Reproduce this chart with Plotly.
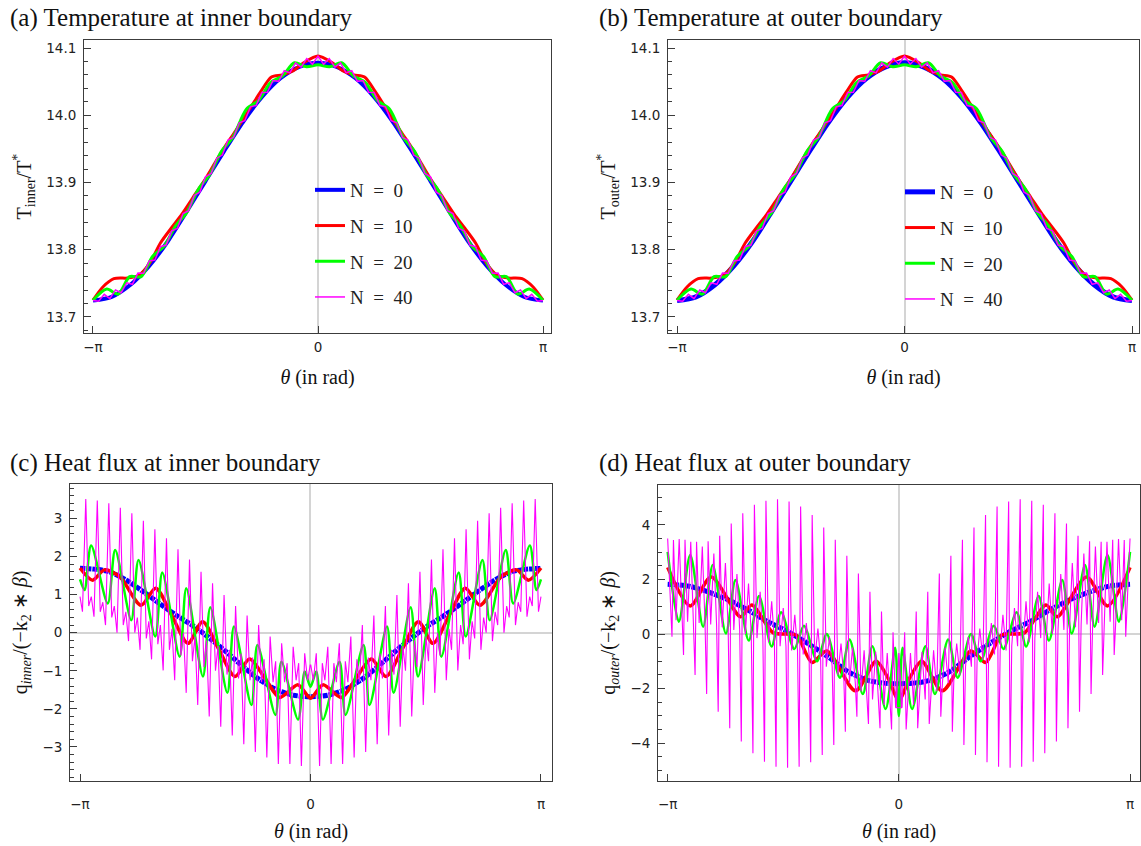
import numpy as np
import plotly.graph_objects as go

PI = np.pi
W, H = 1141, 846

# ======================= DATA =======================
# ---- (a)/(b) temperature, theta in rad ----
T_N0_theta = [-3.1416, -2.8798, -2.618, -2.3562, -2.0944, -1.8326, -1.5708, -1.309, -1.0472, -0.7854, -0.5236, -0.2618, 0.0,
              0.2618, 0.5236, 0.7854, 1.0472, 1.309, 1.5708, 1.8326, 2.0944, 2.3562, 2.618, 2.8798, 3.1416]
T_N0 = [13.7245, 13.730, 13.748, 13.776, 13.813, 13.857, 13.902, 13.947, 13.990, 14.027, 14.055, 14.072, 14.078,
        14.072, 14.055, 14.027, 13.990, 13.947, 13.902, 13.857, 13.813, 13.776, 13.748, 13.730, 13.7245]

T_N10_theta = [-3.1416, -3.00, -2.85, -2.65, -2.50, -2.35, -2.20, -2.05, -1.90, -1.75, -1.55, -1.35, -1.15, -0.95, -0.80,
               -0.65, -0.50, -0.35, -0.20, 0.0, 0.20, 0.35, 0.50, 0.65, 0.80, 0.95, 1.15, 1.35, 1.55, 1.75, 1.90, 2.05,
               2.20, 2.35, 2.50, 2.65, 2.85, 3.00, 3.1416]
T_N10 = [13.725, 13.745, 13.757, 13.758, 13.762, 13.780, 13.810, 13.832, 13.853, 13.877, 13.909, 13.945, 13.977, 14.010,
         14.035, 14.057, 14.060, 14.066, 14.078, 14.088, 14.078, 14.066, 14.060, 14.057, 14.035, 14.010, 13.977, 13.945,
         13.909, 13.877, 13.853, 13.832, 13.810, 13.780, 13.762, 13.758, 13.757, 13.745, 13.725]

T_N20_theta = [-3.1416, -2.95, -2.79, -2.63, -2.47, -2.31, -2.15, -1.99, -1.83, -1.67, -1.51, -1.35, -1.19, -1.00, -0.83,
               -0.66, -0.50, -0.33, -0.16, 0.0, 0.16, 0.33, 0.50, 0.66, 0.83, 1.00, 1.19, 1.35, 1.51, 1.67, 1.83, 1.99,
               2.15, 2.31, 2.47, 2.63, 2.79, 2.95, 3.1416]
T_N20 = [13.725, 13.7415, 13.734, 13.760, 13.760, 13.790, 13.805, 13.835, 13.856, 13.890, 13.912, 13.946, 13.967, 14.009,
         14.022, 14.049, 14.058, 14.078, 14.072, 14.075, 14.072, 14.078, 14.058, 14.049, 14.022, 14.009, 13.967, 13.946,
         13.912, 13.890, 13.856, 13.835, 13.805, 13.790, 13.760, 13.760, 13.734, 13.7415, 13.725]

T_N40_theta = list(np.linspace(-PI, PI, 81))
T_N40 = [13.7245, 13.7235, 13.7337, 13.7274, 13.7402, 13.7360, 13.7508, 13.7486, 13.7653, 13.7649, 13.7833, 13.7846,
         13.8045, 13.8070, 13.8281, 13.8318, 13.8538, 13.8582, 13.8808, 13.8856, 13.9085, 13.9134, 13.9362, 13.9408,
         13.9632, 13.9672, 13.9889, 13.9920, 14.0125, 14.0144, 14.0337, 14.0341, 14.0517, 14.0504, 14.0662, 14.0630,
         14.0778, 14.0716, 14.0843, 14.0759, 14.0880,
         14.0759, 14.0843, 14.0716, 14.0778, 14.0630, 14.0662, 14.0504, 14.0517, 14.0341, 14.0337, 14.0144, 14.0125,
         13.9920, 13.9889, 13.9672, 13.9632, 13.9408, 13.9362, 13.9134, 13.9085, 13.8856, 13.8808, 13.8582, 13.8538,
         13.8318, 13.8281, 13.8070, 13.8045, 13.7846, 13.7833, 13.7649, 13.7653, 13.7486, 13.7508, 13.7360, 13.7402,
         13.7274, 13.7337, 13.7235, 13.7245]

# ---- (c) heat flux, inner ----
qc_N0_theta = [-3.1416, -2.95, -2.74, -2.51, -2.28, -2.06, -1.83, -1.60, -1.37, -1.15, -0.92, -0.69, -0.46, -0.24, 0.0,
               0.24, 0.46, 0.69, 0.92, 1.15, 1.37, 1.60, 1.83, 2.06, 2.28, 2.51, 2.74, 2.95, 3.1416]
qc_N0 = [1.69, 1.67, 1.60, 1.38, 1.08, 0.77, 0.46, 0.18, -0.15, -0.50, -0.89, -1.24, -1.50, -1.64, -1.68,
         -1.64, -1.50, -1.24, -0.89, -0.50, -0.15, 0.18, 0.46, 0.77, 1.08, 1.38, 1.60, 1.67, 1.69]

qc_N10_theta = [-3.1416, -2.97, -2.81, -2.60, -2.31, -2.11, -1.89, -1.67, -1.47, -1.25, -1.03, -0.83, -0.62, -0.42,
                -0.17, 0.0, 0.17, 0.42, 0.62, 0.83, 1.03, 1.25, 1.47, 1.67, 1.89, 2.11, 2.31, 2.60, 2.81, 2.97, 3.1416]
qc_N10 = [1.70, 1.38, 1.65, 1.47, 0.72, 1.17, 0.45, -0.28, 0.29, -0.43, -1.15, -0.69, -1.20, -1.70, -1.37, -1.72,
          -1.37, -1.70, -1.20, -0.69, -1.15, -0.43, 0.29, -0.28, 0.45, 1.17, 0.72, 1.47, 1.65, 1.38, 1.70]

qc_N20_theta = [-3.1416, -3.08, -2.99, -2.763, -2.662, -2.443, -2.344, -2.116, -2.02, -1.784, -1.693, -1.466, -1.365,
                -1.133, -1.043, -0.805, -0.723, -0.478, -0.396, -0.169, -0.078, 0.0, 0.078, 0.169, 0.396, 0.478, 0.723,
                0.805, 1.043, 1.133, 1.365, 1.466, 1.693, 1.784, 2.02, 2.116, 2.344, 2.443, 2.662, 2.763, 2.99, 3.08,
                3.1416]
qc_N20 = [1.40, 1.12, 2.29, 0.77, 2.17, 0.33, 1.91, -0.10, 1.58, -0.63, 1.17, -1.15, 0.67, -1.58, 0.16, -1.90, -0.32,
          -2.16, -0.76, -2.28, -1.02, -1.42, -1.02, -2.28, -0.76, -2.16, -0.32, -1.90, 0.16, -1.58, 0.67, -1.15, 1.17,
          -0.63, 1.58, -0.10, 1.91, 0.33, 2.17, 0.77, 2.29, 1.12, 1.40]

# N = 40: one entry per oscillation period (spike position, spike top, deep trough, two intermediate levels)
spike_theta = [-3.063, -2.906, -2.749, -2.592, -2.435, -2.278, -2.121, -1.963, -1.806, -1.649, -1.492, -1.335, -1.178,
               -1.021, -0.864, -0.707, -0.550, -0.393, -0.236, -0.079, 0.079, 0.236, 0.393, 0.550, 0.707, 0.864,
               1.021, 1.178, 1.335, 1.492, 1.649, 1.806, 1.963, 2.121, 2.278, 2.435, 2.592, 2.749, 2.906, 3.063]
qc_N40_end = 0.95
qc_N40_up = [3.51, 3.47, 3.40, 3.28, 3.14, 2.94, 2.72, 2.48, 2.19, 1.92, 1.60, 1.30, 0.99, 0.70, 0.45, 0.20, -0.10,
             -0.28, -0.37, -0.54, -0.54, -0.37, -0.28, -0.10, 0.20, 0.45, 0.70, 0.99, 1.30, 1.60, 1.92, 2.19, 2.48,
             2.72, 2.94, 3.14, 3.28, 3.40, 3.47, 3.51]
qc_N40_dn = [0.55, 0.42, 0.20, 0.00, -0.22, -0.45, -0.70, -0.99, -1.25, -1.58, -1.90, -2.20, -2.47, -2.70, -2.93,
             -3.13, -3.28, -3.45, -3.45, -3.50, -3.50, -3.45, -3.45, -3.28, -3.13, -2.93, -2.70, -2.47, -2.20, -1.90,
             -1.58, -1.25, -0.99, -0.70, -0.45, -0.22, 0.00, 0.20, 0.42, 0.55]
qc_N40_m1 = [0.70, 0.55, 0.40, 0.20, 0.00, -0.15, -0.30, -0.45, -0.60, -0.75, -0.90, -1.00, -1.10, -1.20, -1.25,
             -1.30, -1.30, -1.30, -1.25, -1.25, -1.25, -1.25, -1.30, -1.30, -1.30, -1.25, -1.20, -1.10, -1.00, -0.90,
             -0.75, -0.60, -0.45, -0.30, -0.15, 0.00, 0.20, 0.40, 0.55, 0.70]
qc_N40_m2 = [0.95, 0.80, 0.70, 0.55, 0.40, 0.30, 0.20, 0.10, 0.00, -0.10, -0.20, -0.35, -0.45, -0.55, -0.65, -0.70,
             -0.75, -0.80, -0.80, -0.85, -0.85, -0.80, -0.80, -0.75, -0.70, -0.65, -0.55, -0.45, -0.35, -0.20, -0.10,
             0.00, 0.10, 0.20, 0.30, 0.40, 0.55, 0.70, 0.80, 0.95]

# ---- (d) heat flux, outer ----
qd_N0_theta = [-3.1416, -2.87, -2.60, -2.32, -2.05, -1.78, -1.51, -1.24, -0.965, -0.69, -0.42, -0.20, 0.0,
               0.20, 0.42, 0.69, 0.965, 1.24, 1.51, 1.78, 2.05, 2.32, 2.60, 2.87, 3.1416]
qd_N0 = [1.82, 1.76, 1.55, 1.25, 0.88, 0.45, 0.09, -0.34, -0.83, -1.38, -1.70, -1.80, -1.82,
         -1.80, -1.70, -1.38, -0.83, -0.34, 0.09, 0.45, 0.88, 1.25, 1.55, 1.76, 1.82]

qd_N10_theta = [-3.1416, -2.835, -2.55, -2.15, -2.0, -1.71, -1.55, -1.39, -1.18, -0.98, -0.59, -0.31, -0.15, 0.0,
                0.15, 0.31, 0.59, 0.98, 1.18, 1.39, 1.55, 1.71, 2.0, 2.15, 2.55, 2.835, 3.1416]
qd_N10 = [2.44, 1.03, 2.09, 0.63, 1.06, 0.05, 0.0, -0.05, -1.04, -0.62, -2.08, -1.00, -1.60, -2.42,
          -1.60, -1.00, -2.08, -0.62, -1.04, -0.05, 0.0, 0.05, 1.06, 0.63, 2.09, 1.03, 2.44]

qd_N20_theta = [-3.1416, -2.99, -2.835, -2.66, -2.53, -2.35, -2.22, -2.04, -1.90, -1.73, -1.60, -1.42, -1.29, -1.11,
                -0.98, -0.80, -0.67, -0.49, -0.36, -0.18, -0.05, 0.0, 0.05, 0.18, 0.36, 0.49, 0.67, 0.80, 0.98, 1.11,
                1.29, 1.42, 1.60, 1.73, 1.90, 2.04, 2.22, 2.35, 2.53, 2.66, 2.835, 2.99, 3.1416]
qd_N20 = [3.01, 0.45, 2.89, 0.27, 2.53, 0.02, 1.98, -0.24, 1.39, -0.46, 0.80, -0.55, 0.30, -1.00, 0.00, -1.60, -0.20,
          -2.20, -0.45, -2.75, -0.50, -3.00, -0.50, -2.75, -0.45, -2.20, -0.20, -1.60, 0.00, -1.00, 0.30, -0.55, 0.80,
          -0.46, 1.39, -0.24, 1.98, 0.02, 2.53, 0.27, 2.89, 0.45, 3.01]

qd_N40_end = 3.50
qd_N40_up = [3.44, 3.45, 3.38, 3.40, 3.60, 4.05, 4.42, 4.73, 4.88, 4.94, 4.85, 4.67, 4.36, 3.90, 3.45, 2.87, 2.22,
             1.55, 0.82, 0.06, 0.06, 0.82, 1.55, 2.22, 2.87, 3.45, 3.90, 4.36, 4.67, 4.85, 4.94, 4.88, 4.73, 4.42,
             4.05, 3.60, 3.40, 3.38, 3.45, 3.44]
qd_N40_dn = [-0.10, -0.77, -1.50, -2.20, -2.85, -3.45, -3.94, -4.37, -4.68, -4.86, -4.90, -4.86, -4.70, -4.43, -4.07,
             -3.58, -3.03, -3.30, -3.45, -3.50, -3.50, -3.45, -3.30, -3.03, -3.58, -4.07, -4.43, -4.70, -4.86, -4.90,
             -4.86, -4.68, -4.37, -3.94, -3.45, -2.85, -2.20, -1.50, -0.77, -0.10]
qd_N40_pk = [3.48, 3.38, 3.20, 2.95, 2.60, 2.20, 1.85, 1.55, 1.20, 0.95, 0.70, 0.40, 0.20, -0.10, -0.35, -0.50, -0.60,
             -0.65, -0.70, -0.70, -0.70, -0.70, -0.65, -0.60, -0.50, -0.35, -0.10, 0.20, 0.40, 0.70, 0.95, 1.20, 1.55,
             1.85, 2.20, 2.60, 2.95, 3.20, 3.38, 3.48]
qd_N40_lo = [0.50, 0.45, 0.40, 0.35, 0.25, 0.15, 0.00, -0.15, -0.30, -0.45, -0.60, -0.75, -0.95, -1.20, -1.50, -1.80,
             -2.10, -2.40, -2.60, -2.70, -2.70, -2.60, -2.40, -2.10, -1.80, -1.50, -1.20, -0.95, -0.75, -0.60, -0.45,
             -0.30, -0.15, 0.00, 0.15, 0.25, 0.35, 0.40, 0.45, 0.50]

legend_names = ["N\u2002=\u20020", "N\u2002=\u200210", "N\u2002=\u200220", "N\u2002=\u200240"]
titles = ["(a) Temperature at inner boundary", "(b) Temperature at outer boundary",
          "(c) Heat flux at inner boundary", "(d) Heat flux at outer boundary"]

# ======================= BUILD N=40 flux paths =======================
def path_c(th, up, dn, m1, m2, end):
    xs, ys = [-PI], [end]
    for t, u, d, a, b in zip(th, up, dn, m1, m2):
        if t < 0:
            pts = [(t - 0.045, d), (t, u), (t + 0.04, a), (t + 0.075, b)]
        else:
            pts = [(t - 0.075, b), (t - 0.04, a), (t, u), (t + 0.045, d)]
        for px, py in pts:
            xs.append(px); ys.append(py)
    xs.append(PI); ys.append(end)
    return xs, ys


def path_d(th, up, dn, pk, lo, end):
    xs, ys = [-PI], [end]
    for t, u, d, p, l in zip(th, up, dn, pk, lo):
        if t < 0:
            pts = [(t - 0.02, d), (t, u), (t + 0.035, l), (t + 0.078, p), (t + 0.115, l)]
        else:
            pts = [(t - 0.115, l), (t - 0.078, p), (t - 0.035, l), (t, u), (t + 0.02, d)]
        for px, py in pts:
            xs.append(px); ys.append(py)
    xs.append(PI); ys.append(end)
    return xs, ys


qc40_x, qc40_y = path_c(spike_theta, qc_N40_up, qc_N40_dn, qc_N40_m1, qc_N40_m2, qc_N40_end)
qd40_x, qd40_y = path_d(spike_theta, qd_N40_up, qd_N40_dn, qd_N40_pk, qd_N40_lo, qd_N40_end)

# ======================= FIGURE =======================
BLUE, RED, GREEN, MAG = "#0000ff", "#ff0000", "#00ff00", "#ff00ff"
fig = go.Figure()

def add(x, y, color, width, name, xa, ya, legend=None, shape="spline", dash="solid", show=False):
    fig.add_trace(go.Scatter(
        x=x, y=y, mode="lines", name=name,
        line=dict(color=color, width=width, shape=shape, dash=dash, smoothing=0.8 if shape == "spline" else None),
        xaxis=xa, yaxis=ya, showlegend=show, legend=legend, legendgroup=(legend or "") + name,
        hoverinfo="skip"))

# panels (a) and (b)
for xa, ya, lg, bw in (("x", "y", "legend", 4), ("x2", "y2", "legend2", 5)):
    add(T_N0_theta, T_N0, BLUE, bw, legend_names[0], xa, ya, lg, show=True)
    add(T_N10_theta, T_N10, RED, 3, legend_names[1], xa, ya, lg, show=True)
    add(T_N20_theta, T_N20, GREEN, 3, legend_names[2], xa, ya, lg, show=True)
    add(T_N40_theta, T_N40, MAG, 1.5, legend_names[3], xa, ya, lg, shape="linear", show=True)

# panel (c)
add(qc_N0_theta, qc_N0, BLUE, 5, legend_names[0], "x3", "y3", dash="5px,1px")
add(qc_N10_theta, qc_N10, RED, 3.5, legend_names[1], "x3", "y3")
add(qc_N20_theta, qc_N20, GREEN, 2.5, legend_names[2], "x3", "y3")
add(qc40_x, qc40_y, MAG, 1.1, legend_names[3], "x3", "y3", shape="linear")

# panel (d)
add(qd_N0_theta, qd_N0, BLUE, 5, legend_names[0], "x4", "y4", dash="5px,1px")
add(qd_N10_theta, qd_N10, RED, 3.5, legend_names[1], "x4", "y4")
add(qd_N20_theta, qd_N20, GREEN, 2.5, legend_names[2], "x4", "y4")
add(qd40_x, qd40_y, MAG, 1.1, legend_names[3], "x4", "y4", shape="linear")

SERIF = "Liberation Serif"
SANS = "DejaVu Sans"
FRAME = "#3c3c3c"

def px_dom(a, b, total):
    return [a / total, b / total]

def xaxis(dom, rng, anchor, lab_gap, title_gap):
    return dict(domain=dom, range=rng, anchor=anchor, showgrid=False,
                zeroline=True, zerolinecolor="#d4d4d4", zerolinewidth=1.5,
                showline=True, mirror=True, linecolor=FRAME, linewidth=1,
                ticks="inside", ticklen=7, tickcolor=FRAME, tickwidth=1,
                tickvals=[-PI, 0, PI], ticktext=["\u2212\u03c0", "0", "\u03c0"],
                tickfont=dict(family=SANS, size=13.5, color="#222"), ticklabelstandoff=lab_gap,
                title=dict(text="<i>\u03b8</i> (in rad)", font=dict(family=SERIF, size=20, color="#111"),
                           standoff=title_gap))

def yaxis(dom, rng, anchor, dtick, tick0, minor, fmt, title, zl):
    return dict(domain=dom, range=rng, anchor=anchor, showgrid=False,
                zeroline=zl, zerolinecolor="#d4d4d4", zerolinewidth=1.5,
                showline=True, mirror=True, linecolor=FRAME, linewidth=1,
                ticks="inside", ticklen=7, tickcolor=FRAME, tickwidth=1,
                dtick=dtick, tick0=tick0, tickformat=fmt,
                minor=dict(dtick=minor, tick0=tick0, ticks="inside", ticklen=4, tickcolor=FRAME, showgrid=False),
                tickfont=dict(family=SANS, size=13.5, color="#222"), ticklabelstandoff=4,
                title=dict(text=title, font=dict(family=SERIF, size=20, color="#111"), standoff=9))

ya_dom = [(H - 333) / H, (H - 40) / H]
yc_dom = [(H - 781) / H, (H - 484) / H]
yd_dom = [(H - 781) / H, (H - 485) / H]

LEG = dict(xanchor="left", yanchor="top", bgcolor="rgba(0,0,0,0)",
           font=dict(family=SERIF, size=19, color="#222"), tracegroupgap=8, itemwidth=30)

fig.update_layout(
    width=W, height=H, margin=dict(l=0, r=0, t=0, b=0),
    paper_bgcolor="white", plot_bgcolor="white",
    xaxis=xaxis(px_dom(84, 551, W), [-3.267, 3.253], "y", 2, 15),
    yaxis=yaxis(ya_dom, [13.6762, 14.1119], "x", 0.1, 13.7, 0.02, ".1f", "T<sub>inner</sub>/T<sup>*</sup>", False),
    xaxis2=xaxis(px_dom(668, 1139, W), [-3.266, 3.238], "y2", 2, 15),
    yaxis2=yaxis(ya_dom, [13.6762, 14.1119], "x2", 0.1, 13.7, 0.02, ".1f", "T<sub>outer</sub>/T<sup>*</sup>", False),
    xaxis3=xaxis(px_dom(70, 552, W), [-3.278, 3.292], "y3", 11, 12),
    yaxis3=yaxis(yc_dom, [-3.895, 3.906], "x3", 1, 0, 0.2, "d",
                 "q<sub><i>inner</i></sub>/(\u2212k<sub>2</sub> \u2217 <i>\u03b2</i>)", True),
    xaxis4=xaxis(px_dom(658, 1140, W), [-3.273, 3.277], "y4", 11, 12),
    yaxis4=yaxis(yd_dom, [-5.385, 5.458], "x4", 2, 0, 0.5, "d",
                 "q<sub><i>outer</i></sub>/(\u2212k<sub>2</sub> \u2217 <i>\u03b2</i>)", True),
    legend=dict(x=310 / W, y=(H - 171) / H, **LEG),
    legend2=dict(x=900 / W, y=(H - 173) / H, **LEG),
)

title_pos = [(8, 18), (597, 18), (8, 463), (597, 463)]
for (tx, ty), t in zip(title_pos, titles):
    fig.add_annotation(text=t, xref="paper", yref="paper", x=tx / W, y=(H - ty) / H, xanchor="left",
                       yanchor="middle", showarrow=False, font=dict(family=SERIF, size=25, color="#111"))

fig.write_html("out.html")
